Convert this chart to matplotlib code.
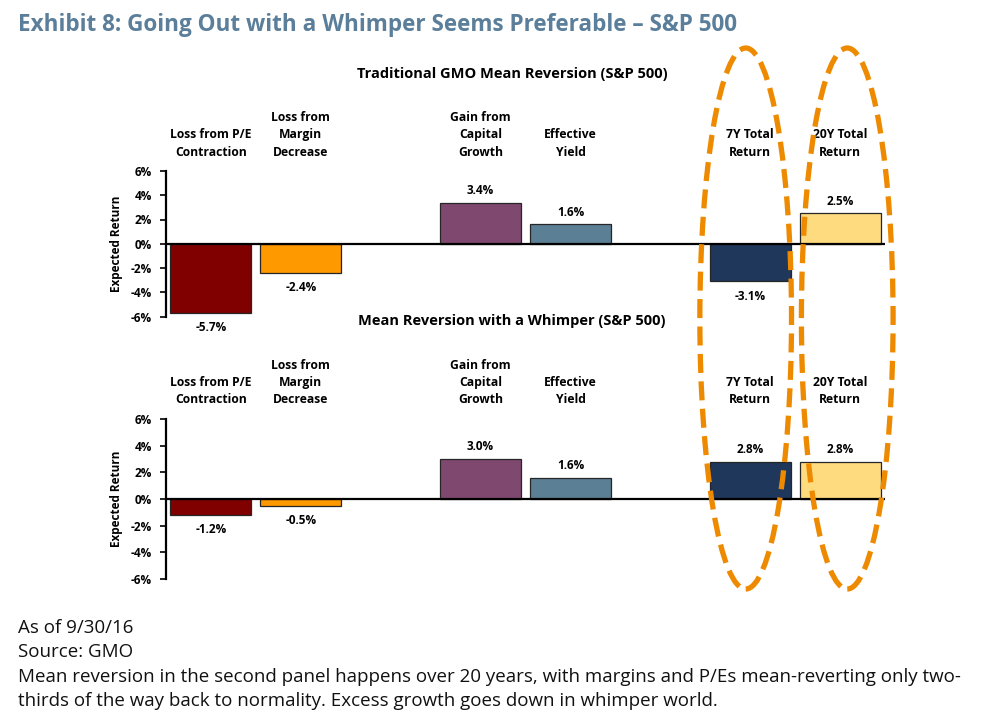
import matplotlib
matplotlib.use("Agg")
import matplotlib.pyplot as plt
import matplotlib.transforms as mtransforms
from matplotlib.patches import Ellipse
from matplotlib import font_manager

# ---------------- data ----------------
categories = ["Loss from P/E\nContraction", "Loss from\nMargin\nDecrease",
              "Gain from\nCapital\nGrowth", "Effective\nYield",
              "7Y Total\nReturn", "20Y Total\nReturn"]
group_sizes = [2, 2, 2]          # bars per group, a blank slot between groups
traditional = [-5.7, -2.4, 3.4, 1.6, -3.1, 2.5]
whimper = [-1.2, -0.5, 3.0, 1.6, 2.8, 2.8]
yticks = [-6, -4, -2, 0, 2, 4, 6]
ytick_labels = ["-6%", "-4%", "-2%", "0%", "2%", "4%", "6%"]
panel_titles = ["Traditional GMO Mean Reversion (S&P 500)",
                "Mean Reversion with a Whimper (S&P 500)"]
title = "Exhibit 8: Going Out with a Whimper Seems Preferable \u2013 S&P 500"
footer = ["As of 9/30/16", "Source: GMO",
          "Mean reversion in the second panel happens over 20 years, with margins and P/Es mean-reverting only two-",
          "thirds of the way back to normality. Excess growth goes down in whimper world."]
highlight_categories = [4, 5]    # indices circled

colors = ["#800000", "#FF9900", "#7F496F", "#5B7F94", "#1E375A", "#FFDB80"]

FONT = "Open Sans"
plt.rcParams["font.family"] = [FONT, "DejaVu Sans"]
available = {f.name for f in font_manager.fontManager.ttflist}
FOOT_FONT = "Liberation Sans Narrow" if "Liberation Sans Narrow" in available else FONT

# positions with gaps
positions = []
p = 0
for g in group_sizes:
    for _ in range(g):
        positions.append(p)
        p += 1
    p += 1
n_slots = p - 1

W, H = 985, 728
fig = plt.figure(figsize=(W / 100, H / 100), dpi=100)


def fx(px):
    return px / W


def fy(py):
    return 1 - py / H


ax_top = fig.add_axes([fx(166), fy(316.5), fx(885) - fx(166), (316.5 - 171) / H])
ax_bot = fig.add_axes([fx(166), fy(579), fx(885) - fx(166), (579 - 419) / H])


def draw_panel(ax, values):
    ax.bar(positions, values, width=0.9, color=colors, edgecolor="#262626",
           linewidth=0.9, zorder=2)
    ax.set_xlim(-0.5, n_slots - 0.5)
    ax.set_ylim(-6, 6)
    ax.axhline(0, color="black", lw=1.6, zorder=3)
    for s in ["top", "right", "bottom"]:
        ax.spines[s].set_visible(False)
    ax.spines["left"].set_linewidth(1.6)
    ax.set_xticks([])
    ax.set_yticks(yticks)
    ax.set_yticklabels(ytick_labels, fontweight="bold", fontsize=8.5)
    ax.tick_params(axis="y", length=4, width=1.2, pad=6)
    ax.set_ylabel("Expected Return", fontweight="bold", fontsize=8.5, labelpad=6)
    trans = mtransforms.blended_transform_factory(ax.transData, ax.transAxes)
    for x, v, c in zip(positions, values, categories):
        ax.annotate(c, xy=(x, 1), xycoords=trans, xytext=(0, 9),
                    textcoords="offset points", ha="center", va="bottom",
                    fontsize=8.7, fontweight="bold", linespacing=1.42)
        if v >= 0:
            ax.annotate(f"{v:.1f}%", xy=(x, v), xytext=(0, 4),
                        textcoords="offset points", ha="center", va="bottom",
                        fontsize=8.5, fontweight="bold")
        else:
            ax.annotate(f"{v:.1f}%", xy=(x, v), xytext=(0, -6),
                        textcoords="offset points", ha="center", va="top",
                        fontsize=8.5, fontweight="bold")


draw_panel(ax_top, traditional)
draw_panel(ax_bot, whimper)

fig.text(fx(512), fy(74), panel_titles[0], ha="center", va="center",
         fontsize=10.5, fontweight="bold")
fig.text(fx(512), fy(321), panel_titles[1], ha="center", va="center",
         fontsize=10.5, fontweight="bold")

renderer = fig.canvas.get_renderer()


def fit_width(t, target_px):
    w = t.get_window_extent(renderer).width
    t.set_fontsize(t.get_fontsize() * target_px / w)


t_title = fig.text(fx(18), fy(25), title, ha="left", va="center", fontsize=15,
                   fontweight="bold", color="#5B7F9A")
fit_width(t_title, 722)

foot_texts = []
for line, ypx in zip(footer, [628, 652, 677, 701]):
    foot_texts.append(fig.text(fx(18), fy(ypx), line, ha="left", va="center",
                               fontsize=12, color="#111111",
                               family=[FOOT_FONT, "DejaVu Sans"]))
w3 = foot_texts[2].get_window_extent(renderer).width
scale = 937 / w3
for t in foot_texts:
    t.set_fontsize(t.get_fontsize() * scale)

# dashed highlight ovals
blend = mtransforms.blended_transform_factory(ax_bot.transData, fig.transFigure)
offsets = [-0.05, 0.08]
for idx, off in zip(highlight_categories, offsets):
    e = Ellipse((positions[idx] + off, fy(318.5)), width=1.02, height=541 / H,
                transform=blend, fill=False, edgecolor="#EE8A00", lw=3.8,
                linestyle=(0, (3.6, 1.6)), zorder=5)
    fig.add_artist(e)

fig.savefig("out.png", dpi=100)
